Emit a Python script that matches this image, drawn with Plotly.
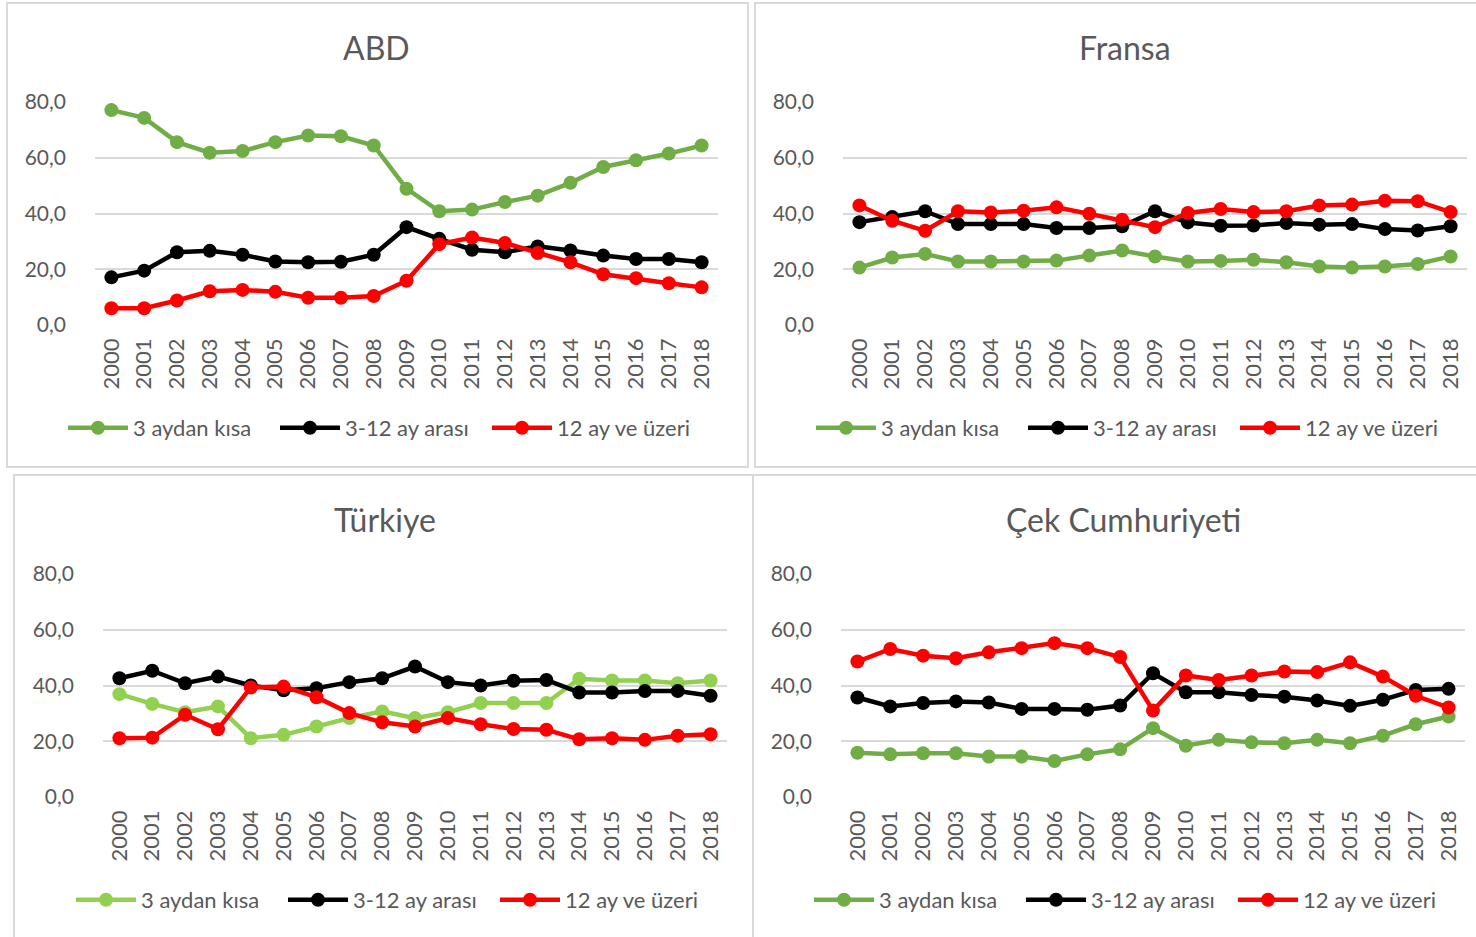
import plotly.graph_objects as go

W, H = 1476, 937

years = [str(y) for y in range(2000, 2019)]
series_names = ["3 aydan kısa", "3-12 ay arası", "12 ay ve üzeri"]
y_ticks = [0, 20, 40, 60, 80]

# ABD
abd_short = [77.1, 74.3, 65.6, 61.8, 62.4, 65.6, 68.0, 67.7, 64.4, 48.9, 40.8, 41.4, 44.1, 46.4, 51.0, 56.7, 59.1, 61.5, 64.4]
abd_mid = [17.1, 19.5, 26.1, 26.6, 25.2, 22.8, 22.5, 22.7, 25.2, 35.1, 30.9, 27.0, 26.1, 28.2, 26.7, 24.9, 23.7, 23.7, 22.5]
abd_long = [6.0, 6.0, 8.8, 12.1, 12.6, 11.9, 9.8, 9.8, 10.4, 15.9, 29.0, 31.4, 29.4, 25.8, 22.5, 18.2, 16.8, 15.0, 13.5]

# Fransa
fra_short = [20.6, 24.2, 25.5, 22.8, 22.8, 22.8, 23.1, 24.9, 26.7, 24.6, 22.8, 23.0, 23.4, 22.5, 21.0, 20.6, 21.0, 21.9, 24.6]
fra_mid = [36.9, 38.7, 40.8, 36.2, 36.2, 36.2, 34.8, 34.8, 35.4, 40.8, 36.8, 35.6, 35.7, 36.6, 36.0, 36.2, 34.4, 33.9, 35.4]
fra_long = [42.9, 37.4, 33.8, 40.8, 40.4, 41.0, 42.2, 39.9, 37.8, 35.1, 40.2, 41.6, 40.5, 40.8, 42.9, 43.2, 44.6, 44.4, 40.5]

# Türkiye
tur_short = [36.9, 33.4, 30.4, 32.5, 21.1, 22.3, 25.3, 28.3, 30.7, 28.3, 30.4, 33.7, 33.7, 33.7, 42.4, 41.8, 41.8, 40.8, 41.8]
tur_mid = [42.6, 45.3, 40.8, 43.2, 40.0, 38.3, 39.0, 41.2, 42.6, 46.8, 41.2, 40.0, 41.7, 42.0, 37.5, 37.5, 38.0, 38.0, 36.3]
tur_long = [21.1, 21.3, 29.5, 24.3, 39.3, 39.6, 35.8, 30.1, 26.8, 25.3, 28.3, 26.1, 24.4, 24.1, 20.7, 21.1, 20.5, 22.0, 22.5]

# Çek Cumhuriyeti
cze_short = [15.9, 15.3, 15.7, 15.7, 14.5, 14.5, 12.9, 15.3, 17.1, 24.7, 18.4, 20.5, 19.6, 19.3, 20.5, 19.3, 22.0, 26.1, 28.9]
cze_mid = [35.7, 32.5, 33.7, 34.3, 33.9, 31.6, 31.6, 31.3, 32.8, 44.4, 37.6, 37.6, 36.6, 36.0, 34.6, 32.7, 34.9, 38.4, 38.8]
cze_long = [48.6, 53.1, 50.7, 49.8, 51.9, 53.4, 55.2, 53.4, 50.2, 31.0, 43.6, 42.0, 43.6, 45.0, 44.8, 48.3, 43.2, 36.3, 32.1]

panels = [
    ("ABD", [abd_short, abd_mid, abd_long], "#70AD47"),
    ("Fransa", [fra_short, fra_mid, fra_long], "#70AD47"),
    ("Türkiye", [tur_short, tur_mid, tur_long], "#92D050"),
    ("Çek Cumhuriyeti", [cze_short, cze_mid, cze_long], "#70AD47"),
]

FONT = "Lato"
TXT = "#595959"
GRID = "#D9D9D9"

geo = [
    dict(x0=95, x1=718, ytop=102, ybot=325, rect=(7, 3, 748, 467), title=(377, 47), leg=(381, 428)),
    dict(x0=843, x1=1467, ytop=102, ybot=325, rect=(755, 3, 1480, 467), title=(1125, 47), leg=(1129, 428)),
    dict(x0=103, x1=727, ytop=574, ybot=797, rect=(14, 475, 753, 945), title=(385, 519), leg=(389, 900)),
    dict(x0=841, x1=1465, ytop=574, ybot=797, rect=(753, 475, 1480, 945), title=(1123, 519), leg=(1127, 900)),
]

fig = go.Figure()
shapes = []
annotations = []

for i, ((title, data, gcol), g) in enumerate(zip(panels, geo)):
    n = "" if i == 0 else str(i + 1)
    xa, ya = "x" + n, "y" + n
    leg = "legend" + n
    colors = [gcol, "#000000", "#FF0000"]
    for name, vals, c in zip(series_names, data, colors):
        fig.add_trace(go.Scatter(
            x=years, y=vals, name=name, mode="lines+markers",
            line=dict(color=c, width=4.5),
            marker=dict(color=c, size=14),
            xaxis=xa, yaxis=ya, legend=leg,
        ))
    fig.layout["xaxis" + n] = dict(
        domain=[g["x0"] / W, g["x1"] / W], anchor=ya,
        type="category", range=[-0.5, len(years) - 0.5],
        tickangle=-90, showgrid=False, showline=False, automargin=False,
        ticks="", tickfont=dict(family=FONT, size=22, color=TXT),
        ticklabelstandoff=8, fixedrange=True,
    )
    fig.layout["yaxis" + n] = dict(
        domain=[(H - g["ybot"]) / H, (H - g["ytop"]) / H], anchor=xa,
        range=[0, 80], tickvals=y_ticks, tickformat=".1f", automargin=False,
        showgrid=True, gridcolor=GRID, gridwidth=1.5, zeroline=False,
        showline=False, ticks="", tickfont=dict(family=FONT, size=21, color=TXT),
        ticklabelstandoff=28, fixedrange=True,
    )
    fig.layout[leg] = dict(
        orientation="h", x=g["leg"][0] / W, y=(H - g["leg"][1]) / H,
        xanchor="center", yanchor="middle", bgcolor="rgba(0,0,0,0)",
        font=dict(family=FONT, size=22, color=TXT), itemwidth=60,
        entrywidth=137, entrywidthmode="pixels",
        traceorder="normal",
    )
    x0, y0, x1, y1 = g["rect"]
    shapes.append(dict(type="rect", xref="paper", yref="paper",
                       x0=x0 / W, x1=x1 / W, y0=(H - y1) / H, y1=(H - y0) / H,
                       line=dict(color=GRID, width=2), layer="below"))
    annotations.append(dict(text=title, xref="paper", yref="paper",
                            x=g["title"][0] / W, y=(H - g["title"][1]) / H,
                            xanchor="center", yanchor="middle", showarrow=False,
                            font=dict(family=FONT, size=32, color=TXT)))

fig.update_layout(
    width=W, height=H, margin=dict(l=0, r=0, t=0, b=0, autoexpand=False),
    paper_bgcolor="white", plot_bgcolor="white",
    separators=", ", shapes=shapes, annotations=annotations,
    showlegend=True,
)

fig.write_html("out.html", config={"displayModeBar": False},
               post_script="document.body.style.margin='0';document.body.style.overflow='hidden';")
